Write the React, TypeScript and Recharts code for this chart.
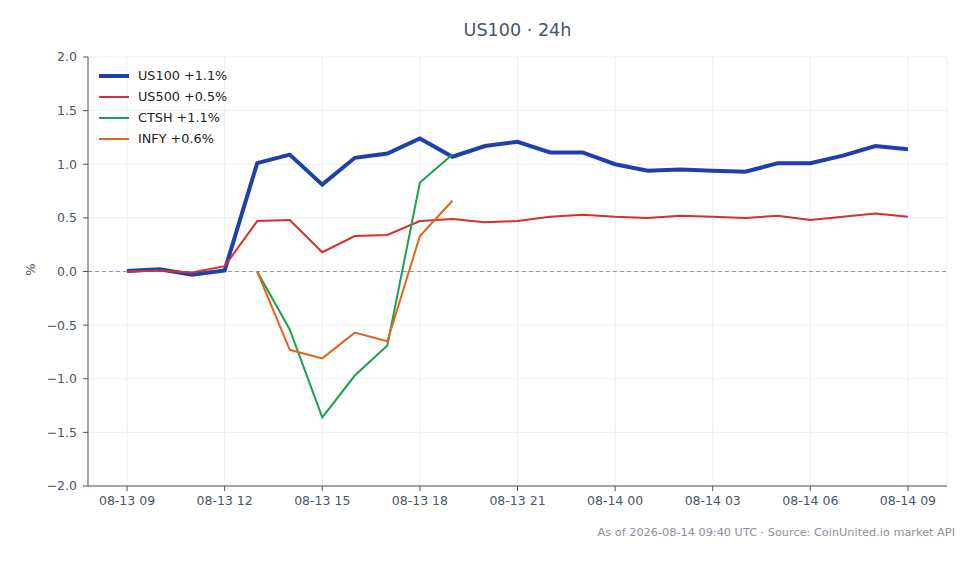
import React from 'react';
import { LineChart, Line, XAxis, YAxis, CartesianGrid, ReferenceLine } from 'recharts';

const hours = ['08-13 09', '08-13 10', '08-13 11', '08-13 12', '08-13 13', '08-13 14', '08-13 15', '08-13 16',
  '08-13 17', '08-13 18', '08-13 19', '08-13 20', '08-13 21', '08-13 22', '08-13 23', '08-14 00', '08-14 01',
  '08-14 02', '08-14 03', '08-14 04', '08-14 05', '08-14 06', '08-14 07', '08-14 08', '08-14 09'];

const us100 = [0.005, 0.02, -0.03, 0.01, 1.01, 1.09, 0.81, 1.06, 1.1, 1.24, 1.07, 1.17, 1.21, 1.11, 1.11,
  1.0, 0.94, 0.95, 0.94, 0.93, 1.01, 1.01, 1.08, 1.17, 1.14];
const us500 = [0.0, 0.01, -0.01, 0.05, 0.47, 0.48, 0.18, 0.33, 0.34, 0.47, 0.49, 0.46, 0.47, 0.51, 0.53,
  0.51, 0.5, 0.52, 0.51, 0.5, 0.52, 0.48, 0.51, 0.54, 0.51];
// stocks only trade 13:00-19:00
const ctsh: (number | null)[] = [null, null, null, null, 0.0, -0.54, -1.36, -0.97, -0.69, 0.83, 1.09,
  null, null, null, null, null, null, null, null, null, null, null, null, null, null];
const infy: (number | null)[] = [null, null, null, null, 0.0, -0.73, -0.81, -0.57, -0.65, 0.33, 0.66,
  null, null, null, null, null, null, null, null, null, null, null, null, null, null];

const xTicks = [0, 3, 6, 9, 12, 15, 18, 21, 24];
const yTicks = [-2, -1.5, -1, -0.5, 0, 0.5, 1, 1.5, 2];

const series = [
  { key: 'us100', name: 'US100 +1.1%', color: '#1e40af', width: 4 },
  { key: 'us500', name: 'US500 +0.5%', color: '#d62f2f', width: 2 },
  { key: 'ctsh', name: 'CTSH +1.1%', color: '#1f9e4f', width: 2 },
  { key: 'infy', name: 'INFY +0.6%', color: '#e0651e', width: 2 },
];

const data = hours.map((h, i) => ({ t: i, label: h, us100: us100[i], us500: us500[i], ctsh: ctsh[i], infy: infy[i] }));

const ink = '#4a5568';
const font = '"DejaVu Sans", sans-serif';

function LegendBox() {
  return (
    <div style={{ position: 'absolute', left: 99, top: 65, fontSize: 12.8, color: '#222' }}>
      {series.map(s => (
        <div key={s.key} style={{ display: 'flex', alignItems: 'center', height: 21 }}>
          <div style={{ width: 30, height: s.width, background: s.color, marginRight: 9 }} />
          <span>{s.name}</span>
        </div>
      ))}
    </div>
  );
}

export default function App() {
  return (
    <div style={{ position: 'absolute', left: 0, top: 0, width: 979, height: 564, background: '#fff', fontFamily: font }}>
      <div style={{ position: 'absolute', left: 88, width: 859, top: 20, textAlign: 'center', fontSize: 17.6, color: ink }}>
        US100 · 24h
      </div>
      <div style={{ position: 'absolute', left: 24, top: 262, fontSize: 13, color: ink, transform: 'rotate(-90deg)' }}>%</div>
      <LineChart width={979} height={564} data={data} margin={{ top: 57, right: 32, bottom: 48, left: 0 }}>
        <CartesianGrid stroke="#eceef2" vertical horizontal />
        <XAxis
          dataKey="t"
          type="number"
          domain={[-1.2, 25.2]}
          ticks={xTicks}
          tickFormatter={(v: number) => hours[v]}
          height={30}
          tick={{ fill: ink, fontSize: 12.5, fontFamily: font }}
          stroke={ink}
          tickSize={5}
          tickMargin={5}
        />
        <YAxis
          type="number"
          domain={[-2, 2]}
          ticks={yTicks}
          tickFormatter={(v: number) => v.toFixed(1).replace('-', '\u2212')}
          width={88}
          tick={{ fill: ink, fontSize: 12.5, fontFamily: font }}
          stroke={ink}
          tickSize={5}
          tickMargin={6}
          allowDataOverflow
        />
        <ReferenceLine y={0} stroke="#8e97b3" strokeDasharray="4 3" strokeWidth={1} />
        {series.map(s => (
          <Line
            key={s.key}
            type="linear"
            dataKey={s.key}
            name={s.name}
            stroke={s.color}
            strokeWidth={s.width}
            dot={false}
            activeDot={false}
            connectNulls={false}
            isAnimationActive={false}
          />
        ))}
      </LineChart>
      <LegendBox />
      <div style={{ position: 'absolute', right: 24, top: 526, fontSize: 11.3, color: '#8a909c' }}>
        As of 2026-08-14 09:40 UTC · Source: CoinUnited.io market API
      </div>
    </div>
  );
}
